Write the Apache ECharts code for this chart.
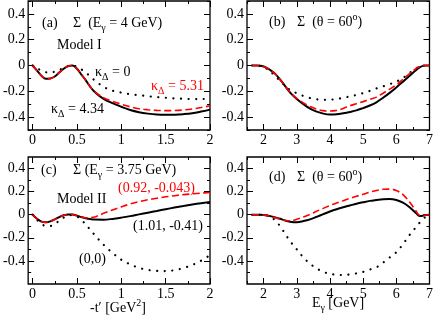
<!DOCTYPE html>
<html>
<head>
<meta charset="UTF-8">
<title>Sigma asymmetry</title>
<script src="https://cdn.jsdelivr.net/npm/echarts@6/dist/echarts.min.js"></script>
<style>
  html, body { margin: 0; padding: 0; background: #fff; }
  #main { width: 436px; height: 322px; }
</style>
</head>
<body>
<div id="main"></div>
<script>
// tick values
var tMajor = [0, 0.5, 1, 1.5, 2];
var tMinor = [0.25, 0.75, 1.25, 1.75];
var eMajor = [2, 3, 4, 5, 6, 7];
var eMinor = [1.5, 2.5, 3.5, 4.5, 5.5, 6.5];
var yMajor = [-0.4, -0.2, 0, 0.2, 0.4];
var yMinorTop = [-0.5, -0.3, -0.1, 0.1, 0.3, 0.5];
var yMinorBot = [-0.5, -0.3, -0.1, 0.1, 0.3];

// -t' grid for panels (a) and (c)
var tVals = [0, 0.05, 0.1, 0.15, 0.2, 0.25, 0.3, 0.35, 0.4, 0.45, 0.5, 0.55, 0.6, 0.65, 0.7,
             0.8, 0.9, 1.0, 1.1, 1.2, 1.3, 1.4, 1.5, 1.6, 1.7, 1.8, 1.9, 2.0];
// (a) Model I, E_gamma = 4 GeV
var aKappa0   = [0, -0.02, -0.04, -0.052, -0.055, -0.048, -0.035, -0.018, -0.005, 0, -0.01, -0.03, -0.055, -0.085, -0.115,
                 -0.165, -0.195, -0.21, -0.222, -0.23, -0.238, -0.245, -0.25, -0.255, -0.258, -0.26, -0.26, -0.258];
var aKappa434 = [0, -0.04, -0.08, -0.102, -0.1, -0.085, -0.055, -0.025, -0.005, 0, -0.025, -0.07, -0.115, -0.165, -0.205,
                 -0.258, -0.292, -0.32, -0.345, -0.362, -0.373, -0.38, -0.382, -0.381, -0.377, -0.37, -0.357, -0.342];
var aKappa531 = [0, -0.04, -0.08, -0.102, -0.1, -0.085, -0.055, -0.025, -0.005, 0, -0.025, -0.07, -0.115, -0.165, -0.203,
                 -0.25, -0.277, -0.3, -0.32, -0.335, -0.343, -0.348, -0.35, -0.349, -0.345, -0.337, -0.326, -0.312];
// (c) Model II, E_gamma = 3.75 GeV
var c00  = [0, -0.045, -0.08, -0.097, -0.097, -0.08, -0.052, -0.025, -0.008, -0.003, -0.015, -0.045, -0.085, -0.13, -0.175,
            -0.26, -0.33, -0.39, -0.43, -0.46, -0.478, -0.487, -0.488, -0.48, -0.462, -0.435, -0.398, -0.35];
var c101 = [0, -0.035, -0.06, -0.066, -0.058, -0.04, -0.02, -0.005, 0.003, 0.002, -0.008, -0.02, -0.03, -0.037, -0.042,
            -0.043, -0.036, -0.025, -0.012, 0.003, 0.018, 0.033, 0.048, 0.062, 0.075, 0.088, 0.1, 0.111];
var c092 = [0, -0.035, -0.06, -0.066, -0.058, -0.04, -0.02, -0.005, 0.003, 0.002, -0.008, -0.02, -0.028, -0.026, -0.02,
            0.012, 0.042, 0.068, 0.093, 0.113, 0.13, 0.143, 0.155, 0.165, 0.174, 0.181, 0.187, 0.192];

// E_gamma grid for panels (b) and (d)
var eVals = [1.65, 1.8, 1.9, 2.0, 2.1, 2.2, 2.35, 2.5, 2.65, 2.8,
             3.0, 3.2, 3.4, 3.6, 3.8, 4.0, 4.2, 4.4, 4.6, 4.8, 5.0, 5.2, 5.4, 5.6, 5.8, 6.0, 6.2, 6.4, 6.6,
             6.7, 6.8, 6.9, 7.0];
// (b) Model I, theta = 60
var bKappa0   = [0, 0, -0.003, -0.01, -0.025, -0.045, -0.083, -0.12, -0.158, -0.19,
                 -0.215, -0.236, -0.252, -0.262, -0.266, -0.265, -0.26, -0.25, -0.24, -0.228, -0.214, -0.197, -0.178, -0.162, -0.145, -0.125, -0.097, -0.058, -0.022,
                 -0.008, 0, 0, 0];
var bKappa434 = [0, 0, -0.002, -0.008, -0.02, -0.035, -0.065, -0.11, -0.16, -0.21,
                 -0.26, -0.3, -0.335, -0.358, -0.373, -0.38, -0.378, -0.37, -0.36, -0.348, -0.33, -0.31, -0.285, -0.25, -0.212, -0.17, -0.125, -0.08, -0.035,
                 -0.015, -0.003, 0, 0];
var bKappa531 = [0, 0, -0.002, -0.008, -0.02, -0.035, -0.065, -0.11, -0.16, -0.208,
                 -0.255, -0.29, -0.318, -0.338, -0.35, -0.353, -0.348, -0.333, -0.312, -0.296, -0.28, -0.263, -0.245, -0.215, -0.183, -0.15, -0.105, -0.062, -0.022,
                 -0.007, 0, 0, 0];
// (d) Model II, theta = 60
var d00  = [0, 0, 0, -0.002, -0.006, -0.015, -0.05, -0.1, -0.165, -0.23,
            -0.3, -0.37, -0.425, -0.465, -0.495, -0.512, -0.52, -0.522, -0.518, -0.508, -0.495, -0.475, -0.455, -0.415, -0.37, -0.325, -0.255, -0.175, -0.105,
            -0.07, -0.04, -0.015, -0.003];
var d101 = [0, 0, 0, -0.002, -0.006, -0.012, -0.023, -0.035, -0.05, -0.06,
            -0.065, -0.055, -0.04, -0.018, 0.005, 0.028, 0.048, 0.065, 0.08, 0.095, 0.108, 0.12, 0.128, 0.135, 0.137, 0.128, 0.105, 0.065, 0.013,
            -0.01, -0.008, -0.002, 0];
var d092 = [0, 0, 0, -0.002, -0.006, -0.013, -0.025, -0.038, -0.05, -0.052,
            -0.04, -0.02, 0.003, 0.03, 0.055, 0.08, 0.102, 0.122, 0.142, 0.16, 0.177, 0.195, 0.21, 0.22, 0.222, 0.21, 0.175, 0.11, 0.03,
            -0.005, -0.006, -0.002, 0];

var FONT = 'Liberation Serif';
var RED = '#ff0000';

var grids = [
    { left: 27, top: 1, width: 183, height: 129 },
    { left: 247, top: 1, width: 184, height: 129 },
    { left: 27, top: 157, width: 183, height: 127 },
    { left: 247, top: 157, width: 184, height: 127 }
];
grids.forEach(function (g) {
    g.show = true; g.borderColor = '#000'; g.borderWidth = 1.3; g.backgroundColor = 'transparent';
});

var xAxes = [], yAxes = [];

// 4 axes per side: labelled major, minor, mirrored major, mirrored minor
function addAxes(list, gi, min, max, major, minor, pos, opp) {
    var ticks = [[pos, major, 6, true], [pos, minor, 3, false], [opp, major, 6, false], [opp, minor, 3, false]];
    ticks.forEach(function (t) {
        list.push({
            type: 'value', gridIndex: gi, min: min, max: max, position: t[0],
            splitLine: { show: false }, axisLine: { show: false, onZero: false },
            axisTick: { show: true, inside: true, length: t[2], customValues: t[1], lineStyle: { color: '#000', width: 1 } },
            axisLabel: {
                show: t[3], customValues: major, margin: 3,
                color: '#000', fontFamily: FONT, fontSize: 14,
                formatter: function (v) { return String(v); }
            }
        });
    });
}

addAxes(xAxes, 0, -0.05, 2, tMajor, tMinor, 'bottom', 'top');
addAxes(xAxes, 1, 1.5, 7, eMajor, eMinor, 'bottom', 'top');
addAxes(xAxes, 2, -0.05, 2, tMajor, tMinor, 'bottom', 'top');
addAxes(xAxes, 3, 1.5, 7, eMajor, eMinor, 'bottom', 'top');
addAxes(yAxes, 0, -0.5, 0.5, yMajor, yMinorTop, 'left', 'right');
addAxes(yAxes, 1, -0.5, 0.5, yMajor, yMinorTop, 'left', 'right');
addAxes(yAxes, 2, -0.6, 0.5, yMajor, yMinorBot, 'left', 'right');
addAxes(yAxes, 3, -0.6, 0.5, yMajor, yMinorBot, 'left', 'right');

function pts(xs, ys) {
    return xs.map(function (x, i) { return [x, ys[i]]; });
}

function curve(gi, xs, ys, kind) {
    var ls;
    if (kind === 'solid') ls = { color: '#000', width: 2, type: 'solid' };
    else if (kind === 'dash') ls = { color: RED, width: 1.6, type: [7, 3.5] };
    else ls = { color: '#000', width: 2.2, type: [0.1, 7.5], cap: 'round' };
    return {
        type: 'line', xAxisIndex: gi * 4, yAxisIndex: gi * 4,
        data: pts(xs, ys), showSymbol: false, smooth: 0.35, silent: true,
        lineStyle: ls, clip: true
    };
}

var series = [
    curve(0, tVals, aKappa0, 'dot'), curve(0, tVals, aKappa434, 'solid'), curve(0, tVals, aKappa531, 'dash'),
    curve(1, eVals, bKappa0, 'dot'), curve(1, eVals, bKappa434, 'solid'), curve(1, eVals, bKappa531, 'dash'),
    curve(2, tVals, c00, 'dot'), curve(2, tVals, c101, 'solid'), curve(2, tVals, c092, 'dash'),
    curve(3, eVals, d00, 'dot'), curve(3, eVals, d101, 'solid'), curve(3, eVals, d092, 'dash')
];

var rich = {
    s: { fontSize: 10, fontFamily: FONT, verticalAlign: 'bottom', lineHeight: 10, height: 10 },
    p: { fontSize: 10, fontFamily: FONT, verticalAlign: 'top', lineHeight: 10, height: 10 }
};
function richFor(color) {
    return {
        s: Object.assign({ fill: color }, rich.s),
        p: Object.assign({ fill: color }, rich.p)
    };
}

function txt(x, y, text, color, align) {
    color = color || '#000';
    return {
        type: 'text', x: x, y: y, silent: true,
        style: {
            text: text, fill: color, fontSize: 14, fontFamily: FONT,
            lineHeight: 20, verticalAlign: 'middle', align: align || 'left',
            rich: richFor(color)
        }
    };
}

var graphic = [
    txt(42, 23, '(a)'),
    txt(73, 23, 'Σ  (E{s|γ} = 4 GeV)'),
    txt(57, 45, 'Model I'),
    txt(95, 72, 'κ{s|Δ} = 0'),
    txt(151, 86, 'κ{s|Δ} = 5.31', RED),
    txt(51, 109, 'κ{s|Δ} = 4.34'),

    txt(269, 22, '(b)'),
    txt(297, 22, 'Σ  (θ = 60{p|o})'),

    txt(41, 170, '(c)'),
    txt(73, 170, 'Σ (E{s|γ} = 3.75 GeV)'),
    txt(57, 199, 'Model II'),
    txt(118, 188, '(0.92, -0.043)', RED),
    txt(133, 226, '(1.01, -0.41)'),
    txt(79, 259, '(0,0)'),

    txt(269, 177, '(d)'),
    txt(297, 177, 'Σ  (θ = 60{p|o})'),

    txt(118, 308, '-t′ [GeV{p|2}]', '#000', 'center'),
    txt(338, 303, 'E{s|γ} [GeV]', '#000', 'center')
];

var myChart = echarts.init(document.getElementById('main'));
myChart.setOption({
    animation: false,
    backgroundColor: '#fff',
    grid: grids,
    xAxis: xAxes,
    yAxis: yAxes,
    series: series,
    graphic: graphic
});
</script>
</body>
</html>
